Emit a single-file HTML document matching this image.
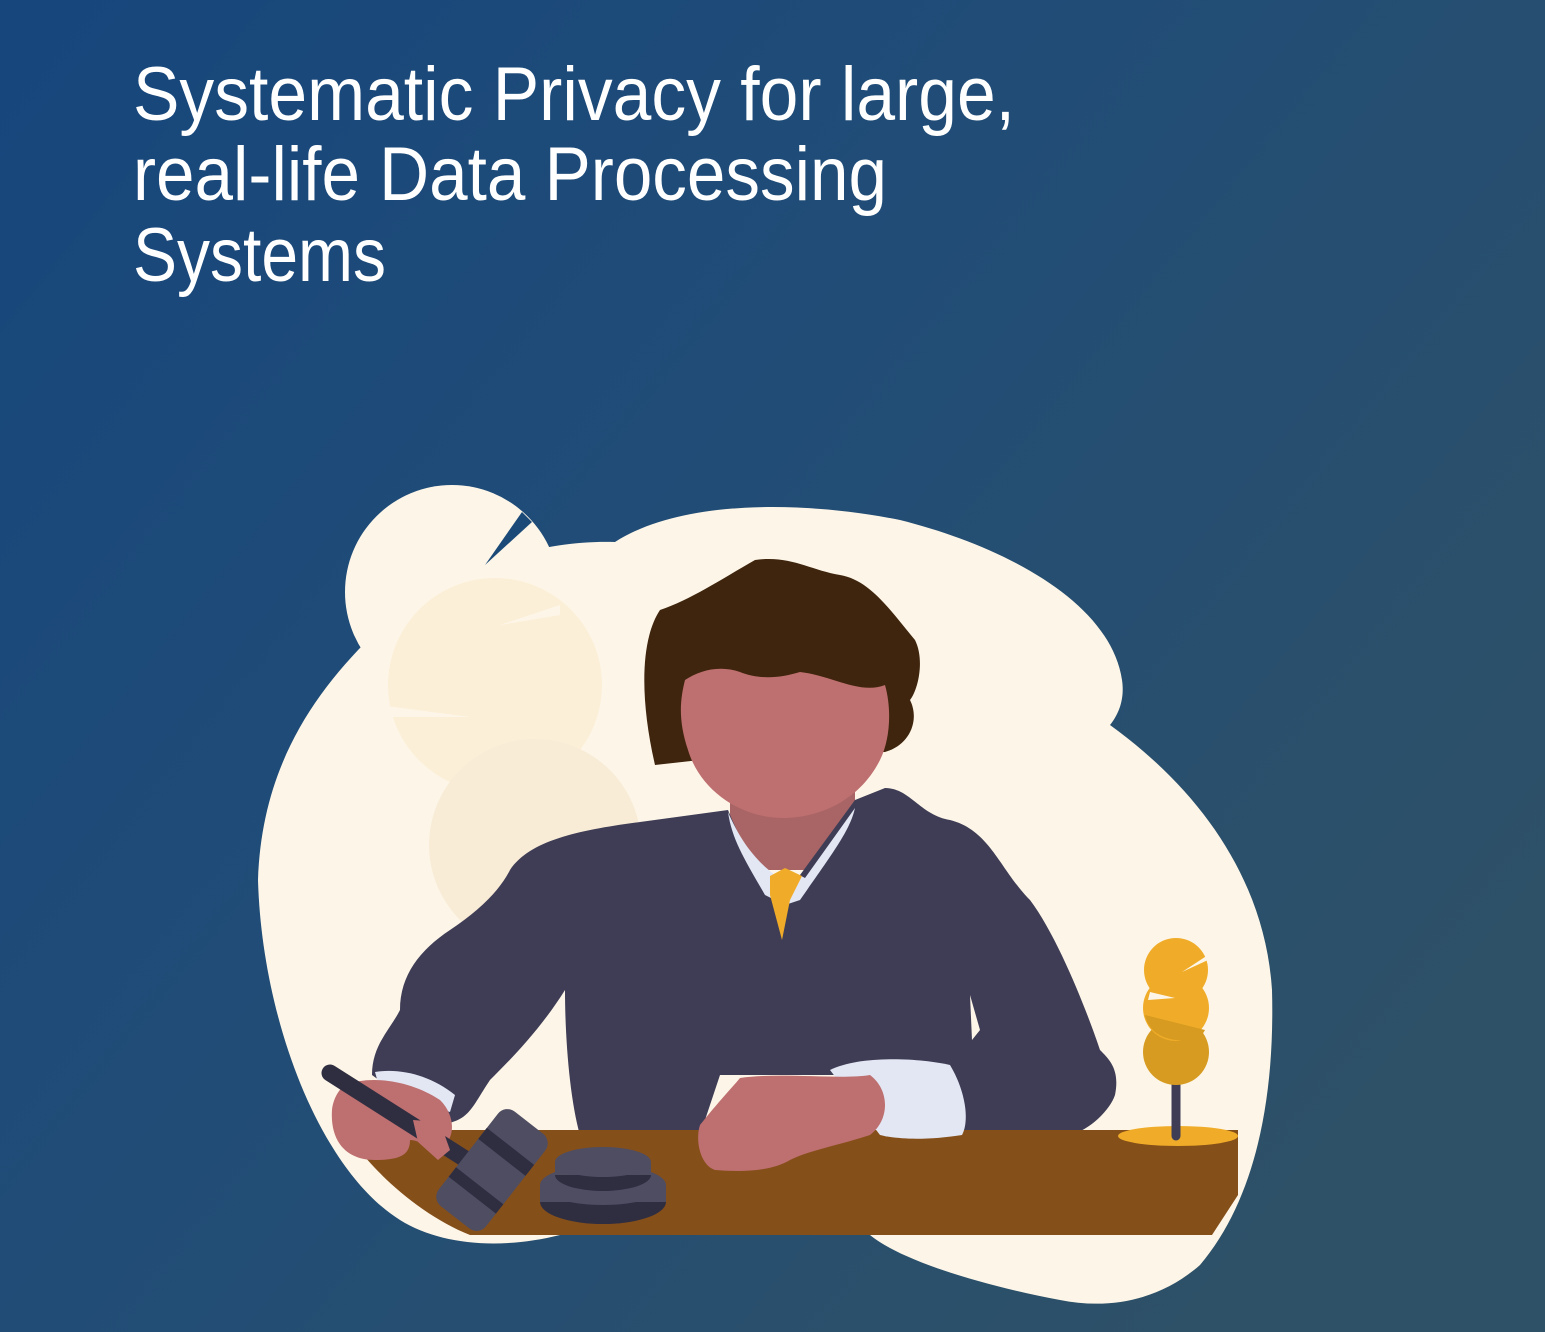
<!DOCTYPE html>
<html><head><meta charset="utf-8"><style>
html,body{margin:0;padding:0;width:1545px;height:1332px;overflow:hidden}
</style></head><body>
<svg width="1545" height="1332" viewBox="0 0 1545 1332" xmlns="http://www.w3.org/2000/svg">
<defs><linearGradient id="bg" x1="0" y1="0" x2="1" y2="0.7">
<stop offset="0" stop-color="#16467c"/><stop offset="0.45" stop-color="#204c77"/><stop offset="1" stop-color="#2e5167"/></linearGradient>
<clipPath id="bc"><path d="M 258 880 C 262 760 320 680 400 610 C 470 560 550 540 615 542 C 680 500 800 500 900 520 C 1000 545 1110 600 1122 680 C 1125 700 1118 715 1110 725 C 1200 790 1265 880 1272 990 C 1275 1100 1255 1200 1200 1265 C 1160 1300 1110 1310 1060 1300 C 980 1285 900 1260 870 1235 L 560 1235 C 500 1250 440 1245 400 1220 C 320 1170 262 1020 258 880 Z"/></clipPath></defs>
<rect width="1545" height="1332" fill="url(#bg)"/>
<g font-family="Liberation Sans, sans-serif" fill="#fff" font-size="76">
<text x="133" y="120" textLength="882" lengthAdjust="spacingAndGlyphs">Systematic Privacy for large,</text>
<text x="133" y="200" textLength="754" lengthAdjust="spacingAndGlyphs">real-life Data Processing</text>
<text x="133" y="281" textLength="253" lengthAdjust="spacingAndGlyphs">Systems</text>
</g>
<!-- blob -->
<circle cx="452" cy="592" r="107" fill="#fdf6e8"/>
<path d="M 258 880 C 262 760 320 680 400 610 C 470 560 550 540 615 542 C 680 500 800 500 900 520 C 1000 545 1110 600 1122 680 C 1125 700 1118 715 1110 725 C 1200 790 1265 880 1272 990 C 1275 1100 1255 1200 1200 1265 C 1160 1300 1110 1310 1060 1300 C 980 1285 900 1260 870 1235 L 560 1235 C 500 1250 440 1245 400 1220 C 320 1170 262 1020 258 880 Z" fill="#fdf6e8"/>
<polygon points="522,512 485,565 532,522" fill="#1c4a78"/>
<g clip-path="url(#bc)">
<circle cx="495" cy="685" r="107" fill="#fcefd8"/>
<circle cx="535" cy="845" r="106" fill="#f8ecd7"/>
</g>
<polygon points="386,706 470,717 386,717" fill="#fdf6e8"/>
<polygon points="500,625 560,605 560,615" fill="#fdf6e8"/>
<!-- hair -->
<path d="M 655 765 C 640 700 640 640 660 610 C 690 600 720 580 755 560 C 790 555 810 570 840 575 C 870 580 890 610 915 640 C 925 660 918 690 910 700 C 920 720 910 745 885 752 L 700 760 Z" fill="#3f250e"/>
<rect x="730" y="770" width="125" height="100" fill="#a96565"/>
<!-- suit -->
<path d="M 640 822 L 728 810 C 745 850 760 880 785 900 L 800 875 L 855 800 L 885 788 C 910 788 920 815 950 820 C 990 830 1000 870 1030 900 C 1060 940 1090 1020 1100 1050 C 1110 1060 1120 1070 1115 1095 C 1110 1110 1090 1130 1070 1135 L 900 1140 L 880 1075 L 720 1075 L 700 1135 L 580 1135 C 570 1100 565 1040 565 990 C 540 1030 510 1060 490 1080 C 470 1110 470 1120 440 1125 L 372 1075 C 372 1045 390 1030 400 1010 C 400 975 420 950 450 930 C 480 910 500 890 510 870 C 530 840 580 830 640 822 Z" fill="#3f3d56"/>
<path d="M 970 995 L 980 1030 L 972 1040 Z" fill="#fdf6e8"/>
<path d="M 728 812 C 740 840 755 860 775 875 L 790 870 L 805 878 L 855 808 C 850 830 835 850 800 900 L 785 905 L 765 895 C 745 860 732 840 728 812 Z" fill="#e3e7f3"/>
<polygon points="770,876 785,868 802,876 790,900 782,940 770,895" fill="#f0ac28"/>
<path d="M 685 680 C 700 670 720 665 740 672 C 760 680 780 678 800 672 C 830 675 860 695 885 685 C 892 710 890 740 880 760 C 860 800 820 818 783 818 C 740 818 700 790 688 750 C 678 720 680 700 685 680 Z" fill="#be6f6f"/>
<!-- desk -->
<path d="M 345 1130 L 1238 1130 L 1238 1195 L 1212 1235 L 470 1235 C 420 1215 370 1170 345 1130 Z" fill="#854f1a"/>
<path d="M 830 1070 C 860 1055 920 1058 950 1065 C 965 1090 970 1120 962 1135 C 930 1140 900 1140 880 1135 Z" fill="#e3e7f3"/>
<path d="M 740 1078 C 780 1072 840 1080 870 1075 C 890 1090 890 1120 870 1135 C 840 1145 810 1150 790 1160 C 770 1172 740 1172 715 1170 C 700 1165 695 1140 700 1125 C 720 1100 730 1090 740 1078 Z" fill="#be6f6f"/>
<path d="M 375 1072 C 400 1068 430 1075 455 1095 L 450 1112 L 380 1090 Z" fill="#e3e7f3"/>
<path d="M 345 1085 C 370 1075 410 1080 440 1100 C 455 1115 455 1135 445 1145 C 430 1150 420 1140 410 1140 C 410 1155 400 1160 375 1160 C 345 1160 330 1140 332 1110 C 333 1100 338 1090 345 1085 Z" fill="#be6f6f"/>
<line x1="330" y1="1073" x2="470" y2="1162" stroke="#2f2e41" stroke-width="17" stroke-linecap="round"/>
<path d="M 413 1120 L 418 1142 L 438 1160 L 450 1150 L 440 1122 Z" fill="#be6f6f"/>
<g transform="rotate(38 492 1170)">
<rect x="462" y="1110" width="60" height="120" rx="12" fill="#4f4d62"/>
<rect x="462" y="1140" width="60" height="14" fill="#2f2e41"/>
<rect x="462" y="1190" width="60" height="12" fill="#2f2e41"/>
</g>
<ellipse cx="603" cy="1202" rx="63" ry="22" fill="#2f2e41"/>
<rect x="540" y="1185" width="126" height="17" fill="#4f4d62"/>
<ellipse cx="603" cy="1185" rx="63" ry="20" fill="#4f4d62"/>
<ellipse cx="603" cy="1175" rx="48" ry="16" fill="#2f2e41"/>
<rect x="555" y="1162" width="96" height="13" fill="#4f4d62"/>
<ellipse cx="603" cy="1162" rx="48" ry="15" fill="#4f4d62"/>
<ellipse cx="1178" cy="1136" rx="60" ry="10" fill="#f0ac28"/>
<line x1="1176" y1="1085" x2="1176" y2="1136" stroke="#3f3d56" stroke-width="9" stroke-linecap="round"/>
<circle cx="1176" cy="1052" r="33" fill="#d69b20"/>
<circle cx="1176" cy="1008" r="33" fill="#f0ac28"/>
<path d="M 1145 1015 L 1205 1030 C 1200 1040 1190 1042 1176 1040 C 1160 1038 1148 1030 1145 1015 Z" fill="#d69b20"/>
<circle cx="1176" cy="970" r="32" fill="#f0ac28"/>
<polygon points="1182,972 1208,955 1208,960" fill="#fdf6e8"/>
<polygon points="1150,992 1175,998 1148,1000" fill="#fdf6e8"/>
</svg>
</body></html>
